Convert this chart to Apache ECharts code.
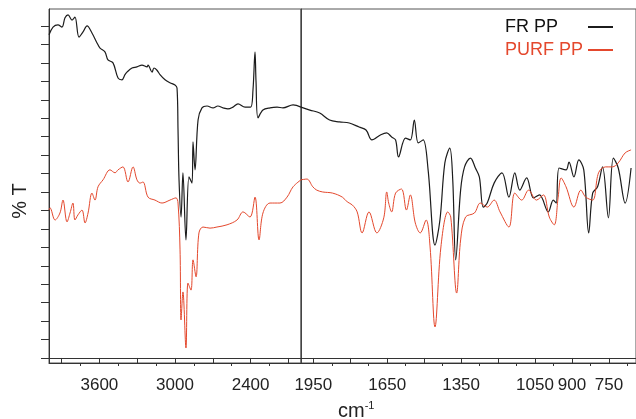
<!DOCTYPE html>
<html><head><meta charset="utf-8">
<script src="https://cdn.jsdelivr.net/npm/echarts@6/dist/echarts.min.js"></script>
<style>html,body{margin:0;padding:0;background:#fff}#c{width:636px;height:419px}</style>
</head><body><div id="c"></div>
<script>
// wavenumber (cm-1), %T (arbitrary offset units)
const frLeft = [[4000,87.6],[3968,89.7],[3929,90.3],[3897,89.7],[3873,92.2],[3849,93.0],[3817,91.6],[3794,92.4],[3762,87.0],[3730,88.4],[3698,90.0],[3659,88.1],[3619,85.4],[3595,84.0],[3556,83.0],[3532,80.8],[3492,80.0],[3452,75.9],[3421,75.4],[3397,76.8],[3381,77.5],[3341,78.6],[3302,78.9],[3262,79.4],[3222,78.9],[3214,79.4],[3182,77.5],[3167,78.6],[3143,78.0],[3119,76.8],[3079,75.4],[3040,74.6],[3000,74.0],[2984,73.2],[2976,61.8],[2968,48.3],[2952,38.2],[2937,50.2],[2913,32.0],[2889,49.1],[2865,47.4],[2857,58.6],[2841,51.0],[2817,64.5],[2786,67.8],[2746,68.3],[2698,67.8],[2660,68.3],[2619,67.8],[2580,67.5],[2540,68.0],[2500,68.9],[2444,68.0],[2400,68.0],[2381,72.7],[2365,83.0],[2357,75.0],[2341,65.1],[2302,67.2],[2246,67.8],[2190,68.0],[2143,67.8],[2063,68.6],[2000,68.0]];
const frRight = [[2000,68.0],[1964,67.2],[1924,66.4],[1884,64.5],[1844,64.0],[1804,63.7],[1764,62.6],[1736,61.8],[1712,59.1],[1676,60.5],[1652,61.0],[1632,59.9],[1616,59.1],[1604,54.5],[1576,59.6],[1556,59.1],[1540,64.5],[1524,58.3],[1504,59.1],[1484,51.0],[1456,30.6],[1436,37.4],[1416,52.9],[1396,56.9],[1384,48.3],[1372,26.6],[1352,45.5],[1336,51.8],[1312,54.2],[1292,51.5],[1276,49.1],[1260,40.9],[1244,42.0],[1216,47.4],[1184,50.2],[1156,43.6],[1132,50.2],[1112,45.5],[1084,48.8],[1056,43.4],[1032,44.2],[996,39.6],[976,42.8],[964,42.0],[952,51.5],[924,51.0],[912,53.1],[892,49.1],[872,53.7],[852,51.0],[832,33.9],[816,44.7],[796,46.4],[776,51.8],[752,38.0],[732,54.2],[712,51.5],[684,42.0],[660,51.5]];
const purfLeft = [[4000,40.1],[3992,40.7],[3952,37.4],[3913,39.3],[3889,42.8],[3857,36.9],[3833,39.3],[3810,42.0],[3794,37.4],[3770,38.8],[3738,40.1],[3714,36.6],[3690,39.3],[3659,44.7],[3635,42.8],[3611,46.4],[3571,48.3],[3516,51.0],[3476,50.2],[3452,51.0],[3413,51.8],[3373,47.7],[3333,51.8],[3302,48.3],[3278,47.4],[3254,47.7],[3214,43.6],[3159,42.8],[3103,42.0],[3040,42.8],[2992,43.4],[2976,42.0],[2960,29.3],[2952,10.3],[2937,17.9],[2913,2.7],[2897,20.3],[2873,18.4],[2857,26.6],[2833,22.0],[2810,33.9],[2778,35.5],[2722,35.2],[2667,35.5],[2587,36.1],[2508,37.4],[2460,39.6],[2405,38.2],[2365,43.6],[2333,32.0],[2302,39.3],[2246,42.0],[2167,42.0],[2111,43.6],[2063,46.4],[2000,48.3]];
const purfRight = [[2000,48.3],[1976,48.5],[1952,46.4],[1936,45.5],[1912,45.0],[1872,44.7],[1832,43.6],[1812,42.3],[1792,41.5],[1772,39.6],[1752,33.9],[1724,39.6],[1692,33.9],[1664,38.0],[1652,45.0],[1644,42.0],[1632,39.6],[1616,44.7],[1592,45.8],[1572,40.1],[1556,44.2],[1536,36.6],[1516,33.9],[1492,37.4],[1476,30.1],[1456,8.4],[1432,30.1],[1404,39.6],[1392,38.2],[1368,17.6],[1352,32.0],[1332,38.2],[1296,39.3],[1272,42.0],[1244,40.9],[1216,42.8],[1192,39.6],[1156,35.5],[1132,44.7],[1104,42.8],[1076,45.5],[1044,42.8],[1016,44.2],[992,38.2],[972,36.1],[956,43.6],[944,48.8],[924,46.4],[892,40.9],[864,45.5],[844,43.6],[816,42.8],[792,50.2],[764,51.8],[736,51.8],[712,52.9],[684,55.6],[660,56.4]];

const leftLabels = [3600, 3000, 2400];
const leftMajor = [3900, 3600, 3300, 3000, 2700, 2400, 2100];
const leftMinor = [3750, 3450, 3150, 2850, 2550, 2250];
const rightLabels = [1950, 1650, 1350, 1050, 900, 750];
const rightMajor = [1950, 1800, 1650, 1500, 1350, 1200, 1050, 900, 750];
const rightMinor = [1875, 1725, 1575, 1425, 1275, 1125, 975, 825, 675];
const yTicks = [0,5,10,15,20,25,30,35,40,45,50,55,60,65,70,75,80,85,90];

const FONT = "'Liberation Sans', Arial, sans-serif";
const NARROW = "'Liberation Sans Narrow', 'Liberation Sans', Arial, sans-serif";
const axisColor = '#333';
const BLACK = '#1c1c1c', RED = '#e4482d';
const yMin = -1.36, yMax = 94.6;

function xAx(grid, min, max, ticks, len, labels) {
  return {
    gridIndex: grid, type: 'value', min: min, max: max, inverse: true, position: 'bottom',
    axisLine: { show: true, lineStyle: { color: axisColor, width: 1 } },
    axisTick: { show: true, length: len, customValues: ticks, lineStyle: { color: axisColor, width: 1 } },
    axisLabel: labels ? { show: true, customValues: labels, margin: 14, fontSize: 17, fontFamily: NARROW, color: '#222', formatter: v => String(v) } : { show: false },
    splitLine: { show: false }
  };
}

const chart = echarts.init(document.getElementById('c'), null, { renderer: 'canvas' });
chart.setOption({
  animation: false,
  backgroundColor: '#fff',
  title: {
    left: 333, top: 395,
    text: '{a|cm}{b|-1}',
    textStyle: { fontWeight: 'normal', rich: {
      a: { fontSize: 20, fontFamily: FONT, fontWeight: 'normal', color: '#222', lineHeight: 22 },
      b: { fontSize: 11, fontFamily: FONT, fontWeight: 'normal', color: '#222', verticalAlign: 'top', lineHeight: 22 }
    } }
  },
  graphic: [{
    type: 'text', x: 20, y: 201, rotation: Math.PI / 2,
    style: { text: '% T', fontSize: 20, fontFamily: FONT, fill: '#222', align: 'center', verticalAlign: 'middle' }
  }],
  legend: {
    orient: 'vertical', left: 500, top: 13, align: 'right',
    itemWidth: 25, itemHeight: 2, itemGap: 5, icon: 'rect',
    formatter: n => '{t|' + n + '}',
    textStyle: { fontSize: 18, fontFamily: FONT, rich: { t: { width: 78, align: 'left', fontSize: 18, lineHeight: 20, fontFamily: FONT } } },
    data: [
      { name: 'FR PP', textStyle: { color: '#111' } },
      { name: 'PURF PP', textStyle: { color: RED } }
    ]
  },
  grid: [
    { left: 49, top: 9, width: 252, bottom: 56, show: true, borderColor: '#555', borderWidth: 1 },
    { left: 301, top: 9, right: -5, bottom: 56, show: true, borderColor: '#555', borderWidth: 1 }
  ],
  xAxis: [
    xAx(0, 2000, 4000, leftMajor, 6, leftLabels),
    xAx(0, 2000, 4000, leftMinor, 3, null),
    xAx(1, 640, 2000, rightMajor, 6, rightLabels),
    xAx(1, 640, 2000, rightMinor, 3, null)
  ],
  yAxis: [
    { gridIndex: 0, type: 'value', min: yMin, max: yMax,
      axisLine: { show: true, lineStyle: { color: axisColor } },
      axisTick: { show: true, length: 8, customValues: yTicks, lineStyle: { color: axisColor } },
      axisLabel: { show: false }, splitLine: { show: false } },
    { gridIndex: 1, type: 'value', min: yMin, max: yMax,
      axisLine: { show: true, lineStyle: { color: '#444' } },
      axisTick: { show: false }, axisLabel: { show: false }, splitLine: { show: false } }
  ],
  series: [
    { name: 'FR PP', type: 'line', xAxisIndex: 0, yAxisIndex: 0, data: frLeft, showSymbol: false, smooth: 0.35, color: BLACK, lineStyle: { width: 1.2, color: BLACK } },
    { name: 'FR PP', type: 'line', xAxisIndex: 2, yAxisIndex: 1, data: frRight, showSymbol: false, smooth: 0.35, color: BLACK, lineStyle: { width: 1.2, color: BLACK } },
    { name: 'PURF PP', type: 'line', xAxisIndex: 0, yAxisIndex: 0, data: purfLeft, showSymbol: false, smooth: 0.35, color: RED, lineStyle: { width: 1, color: RED } },
    { name: 'PURF PP', type: 'line', xAxisIndex: 2, yAxisIndex: 1, data: purfRight, showSymbol: false, smooth: 0.35, color: RED, lineStyle: { width: 1, color: RED } }
  ]
});
</script></body></html>
